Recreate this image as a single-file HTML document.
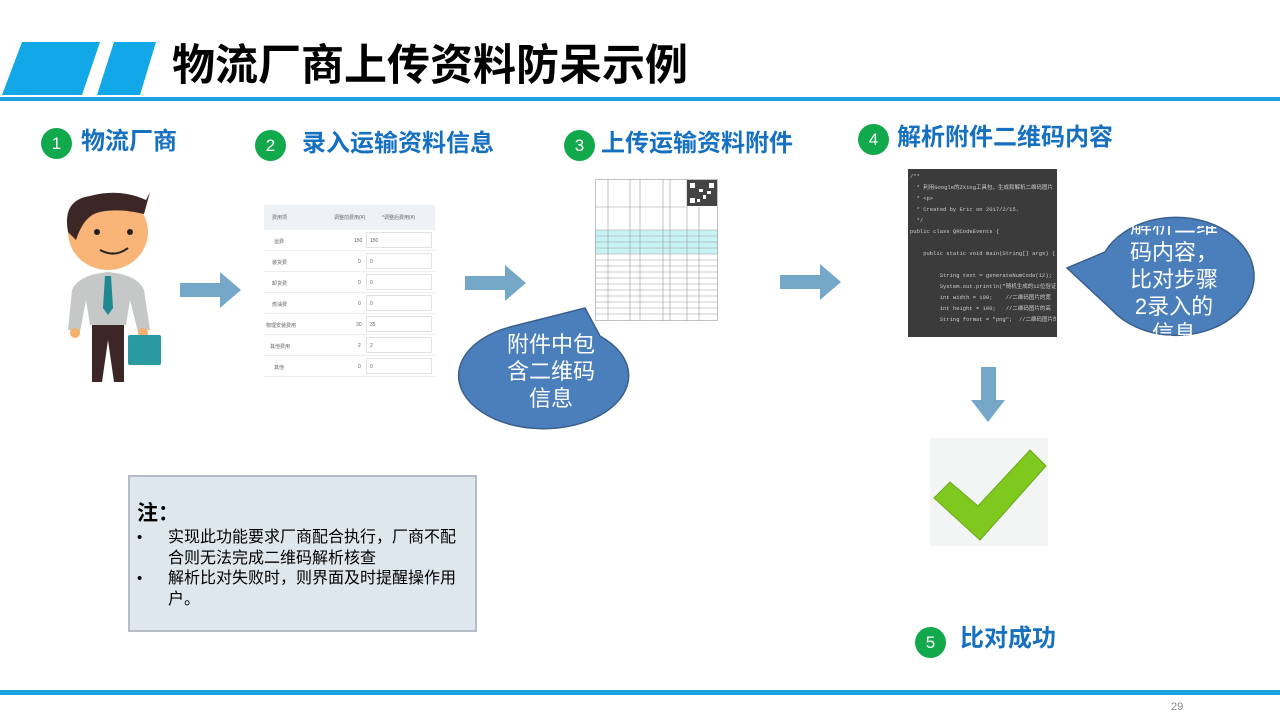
<!DOCTYPE html>
<html><head><meta charset="utf-8"><style>
*{margin:0;padding:0;box-sizing:border-box}
body{width:1280px;height:720px;position:relative;background:#fff;overflow:hidden;font-family:"Liberation Sans","Noto Sans CJK SC",sans-serif}
.a{position:absolute}
.step{position:absolute;font-size:24px;font-weight:bold;color:#1670c0;white-space:nowrap;line-height:30px}
.num{position:absolute;width:31px;height:31px;border-radius:50%;background:#12a84c;color:#fff;font-size:17px;text-align:center;line-height:31px;font-weight:normal}
.bub{color:#fff;font-size:22px;text-align:center;line-height:27px}
</style></head><body>
<svg class="a" style="left:0;top:0" width="1280" height="720">
 <polygon points="22,42 100,42 82,95 2,95" fill="#12a8e8"/>
 <polygon points="114,42 156,42 140,95 97,95" fill="#12a8e8"/>
 <rect x="0" y="97" width="1280" height="4" fill="#1aa3e0"/>
 <rect x="0" y="690" width="1280" height="5" fill="#1aa3e0"/>
 <g fill="#74a7c8">
  <polygon points="180,283 220,283 220,272 241,290 220,308 220,297 180,297"/>
  <polygon points="465,276 505,276 505,265 526,283 505,301 505,290 465,290"/>
  <polygon points="780,275 820,275 820,264 841,282 820,300 820,289 780,289"/>
  <polygon points="981,367 996,367 996,400 1005,400 988,422 971,400 981,400"/>
 </g>
 <g>
  <path d="M92,320 L92,382 L102,382 L108,340 L114,382 L124,382 L124,320 Z" fill="#3c2626"/>
  <path d="M72,290 Q78,275 108,272 Q138,275 144,290 L150,330 L138,332 L130,300 L126,325 L90,325 L86,300 L80,332 L68,330 Z" fill="#c5c8c6"/>
  <path d="M105,276 L111,276 L113,308 L108,315 L103,308 Z" fill="#1f8890"/>
  <circle cx="75" cy="333" r="5" fill="#f5b06d"/>
  <circle cx="143" cy="333" r="5" fill="#f5b06d"/>
  <rect x="128" y="335" width="33" height="30" rx="2" fill="#2a9aa0"/>
  <ellipse cx="108" cy="232" rx="40" ry="38" fill="#f8b577"/>
  <path d="M68,232 Q62,200 90,196 Q120,188 146,200 L150,192 L144,214 Q120,208 100,212 Q84,215 76,240 Z" fill="#3c2626"/>
  <circle cx="97" cy="232" r="3" fill="#222"/>
  <circle cx="130" cy="232" r="3" fill="#222"/>
  <path d="M100,250 Q115,258 128,248" stroke="#222" stroke-width="2" fill="none"/>
 </g>
 <path d="M510,327 L585,308 L600,336 A85,53 0 1 1 510,327 Z" fill="#4a7fbb" stroke="#3a5f8c" stroke-width="1.5"/>
 <rect x="908" y="169" width="149" height="168" fill="#3b3b3b"/>
 <path d="M1067,268 L1105,252 A78,59 0 1 1 1112,310 Z" fill="#4a7fbb" stroke="#3a5f8c" stroke-width="1.5"/>
 <rect x="930" y="438" width="118" height="108" fill="#f3f5f5"/>
 <path d="M934,498 L950,482 L978,506 L1030,450 L1046,466 L980,540 Z" fill="#7fc91f" stroke="#6aa81a"/>
</svg>
<div class="a" style="left:172px;top:37px;font-size:43px;font-weight:bold;color:#000;line-height:58px">物流厂商上传资料防呆示例</div>
<div class="num" style="left:41px;top:128px">1</div><div class="step" style="left:81px;top:127px">物流厂商</div>
<div class="num" style="left:255px;top:130px">2</div><div class="step" style="left:302px;top:129px">录入运输资料信息</div>
<div class="num" style="left:564px;top:130px">3</div><div class="step" style="left:601px;top:129px">上传运输资料附件</div>
<div class="num" style="left:858px;top:124px">4</div><div class="step" style="left:897px;top:123px">解析附件二维码内容</div>
<div class="num" style="left:915px;top:627px">5</div><div class="step" style="left:960px;top:624px">比对成功</div>
<div class="a" style="left:264px;top:205px;width:171px;height:167px;font-size:5px;color:#666">
 <div style="height:25px;background:#eef2f7;position:relative"><span class="a" style="left:8px;top:9px">费用项</span><span class="a" style="left:70px;top:9px">调整前费用(¥)</span><span class="a" style="left:118px;top:9px">*调整后费用(¥)</span></div>
 <div style="height:21px;border-bottom:1px solid #eee;position:relative"><span class="a" style="left:10px;top:8px">运费</span><span class="a" style="left:90px;top:8px">150</span><span class="a" style="left:102px;top:2px;width:66px;height:16px;border:1px solid #e3e3e3;padding:5px 3px">150</span></div>
 <div style="height:21px;border-bottom:1px solid #eee;position:relative"><span class="a" style="left:8px;top:8px">装货费</span><span class="a" style="left:94px;top:8px">0</span><span class="a" style="left:102px;top:2px;width:66px;height:16px;border:1px solid #e3e3e3;padding:5px 3px">0</span></div>
 <div style="height:21px;border-bottom:1px solid #eee;position:relative"><span class="a" style="left:8px;top:8px">卸货费</span><span class="a" style="left:94px;top:8px">0</span><span class="a" style="left:102px;top:2px;width:66px;height:16px;border:1px solid #e3e3e3;padding:5px 3px">0</span></div>
 <div style="height:21px;border-bottom:1px solid #eee;position:relative"><span class="a" style="left:8px;top:8px">燃油费</span><span class="a" style="left:94px;top:8px">0</span><span class="a" style="left:102px;top:2px;width:66px;height:16px;border:1px solid #e3e3e3;padding:5px 3px">0</span></div>
 <div style="height:21px;border-bottom:1px solid #eee;position:relative"><span class="a" style="left:2px;top:8px">物理安装费用</span><span class="a" style="left:92px;top:8px">30</span><span class="a" style="left:102px;top:2px;width:66px;height:16px;border:1px solid #e3e3e3;padding:5px 3px">35</span></div>
 <div style="height:21px;border-bottom:1px solid #eee;position:relative"><span class="a" style="left:6px;top:8px">其他费用</span><span class="a" style="left:94px;top:8px">2</span><span class="a" style="left:102px;top:2px;width:66px;height:16px;border:1px solid #e3e3e3;padding:5px 3px">2</span></div>
 <div style="height:21px;border-bottom:1px solid #eee;position:relative"><span class="a" style="left:10px;top:8px">其他</span><span class="a" style="left:94px;top:8px">0</span><span class="a" style="left:102px;top:2px;width:66px;height:16px;border:1px solid #e3e3e3;padding:5px 3px">0</span></div>
</div>
<svg class="a" style="left:595px;top:179px" width="124" height="143">
 <rect x="0" y="51" width="123" height="24" fill="#c8f3f5"/>
 <g stroke="#999" stroke-width="0.6" fill="none">
  <rect x="0.5" y="0.5" width="122" height="141"/>
  <line x1="13" y1="0" x2="13" y2="142"/><line x1="35" y1="0" x2="35" y2="142"/><line x1="45" y1="0" x2="45" y2="142"/>
  <line x1="68" y1="0" x2="68" y2="142"/><line x1="75" y1="0" x2="75" y2="142"/><line x1="92" y1="0" x2="92" y2="142"/>
  <line x1="104" y1="28" x2="104" y2="142"/>
  <line x1="0" y1="28" x2="92" y2="28"/><line x1="0" y1="51" x2="123" y2="51"/>
  <line x1="0" y1="57" x2="123" y2="57"/><line x1="0" y1="63" x2="123" y2="63"/><line x1="0" y1="69" x2="123" y2="69"/><line x1="0" y1="75" x2="123" y2="75"/>
  <line x1="0" y1="81" x2="123" y2="81"/><line x1="0" y1="87" x2="123" y2="87"/><line x1="0" y1="93" x2="123" y2="93"/><line x1="0" y1="99" x2="123" y2="99"/>
  <line x1="0" y1="105" x2="123" y2="105"/><line x1="0" y1="111" x2="123" y2="111"/><line x1="0" y1="117" x2="123" y2="117"/><line x1="0" y1="123" x2="123" y2="123"/>
  <line x1="0" y1="129" x2="123" y2="129"/><line x1="0" y1="135" x2="123" y2="135"/>
 </g>
 <rect x="92" y="1" width="30" height="26" fill="#444"/>
 <g fill="#fff"><rect x="95" y="4" width="5" height="5"/><rect x="114" y="4" width="5" height="5"/><rect x="95" y="19" width="5" height="5"/><rect x="104" y="10" width="4" height="3"/><rect x="108" y="16" width="3" height="4"/><rect x="112" y="12" width="4" height="3"/><rect x="102" y="20" width="3" height="3"/></g>
</svg>
<div class="a" style="left:910px;top:171px;width:146px;height:164px;overflow:hidden;font-family:'Liberation Mono','Noto Sans CJK SC',monospace;font-size:5.5px;color:#ccc;line-height:11px;white-space:pre">/**
  * 利用Google的ZXing工具包，生成和解析二维码图片
  * &lt;p&gt;
  * Created by Eric on 2017/2/15.
  */
public class QRCodeEvents {

    public static void main(String[] args) {

         String text = generateNumCode(12);  //随机
         System.out.println("随机生成的12位验证码为:
         int width = 100;    //二维码图片的宽
         int height = 100;   //二维码图片的高
         String format = "png";  //二维码图片的格式</div>
<div class="a bub" style="left:466px;top:331px;width:170px">附件中包<br>含二维码<br>信息</div>
<div class="a" style="left:1100px;top:226px;width:160px;height:112px;overflow:hidden">
 <div class="bub" style="margin-top:-14px;width:160px;margin-left:-6px;line-height:27px">解析二维<br>码内容，<br>比对步骤<br>2录入的<br>信息</div>
</div>
<div class="a" style="left:128px;top:475px;width:349px;height:157px;background:#dfe7ee;border:2px solid #b8bcc6"></div>
<div class="a" style="left:137px;top:500px;font-size:21px;font-weight:bold;line-height:28px">注：</div>
<div class="a" style="left:137px;top:528px;font-size:15px;line-height:20px">•</div>
<div class="a" style="left:137px;top:569px;font-size:15px;line-height:20px">•</div>
<div class="a" style="left:168px;top:528px;width:292px;font-size:16px;line-height:20.5px;color:#000">实现此功能要求厂商配合执行，厂商不配合则无法完成二维码解析核查<br>解析比对失败时，则界面及时提醒操作用户。</div>
<div class="a" style="left:1171px;top:701px;font-size:11px;color:#888">29</div>
</body></html>
